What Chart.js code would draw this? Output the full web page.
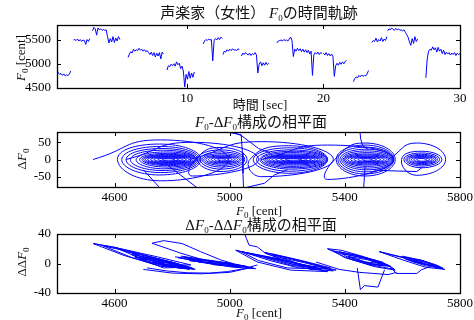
<!DOCTYPE html>
<html>
<head>
<meta charset="utf-8">
<script src="https://cdn.jsdelivr.net/npm/chart.js"></script>
<style>
  body { margin: 0; background: #fff; }
  #wrap { position: relative; width: 474px; height: 320px; overflow: hidden; }
  canvas { position: absolute; left: 0; top: 0; }
  .lbl { position: absolute; white-space: nowrap; transform: translate(-50%, -50%);
         font-family: "Liberation Serif", "Noto Sans CJK JP", serif; color: #111; line-height: 1; }
  .ttl { font-size: 15px; }
  .ax { font-size: 13px; }
  .rot { transform: translate(-50%, -50%) rotate(-90deg); }
  sub { font-size: 9px; vertical-align: -3px; line-height: 0; }
</style>
</head>
<body>
<div id="wrap">
  <canvas id="c1" width="474" height="320"></canvas>
  <canvas id="c2" width="474" height="320"></canvas>
  <canvas id="c3" width="474" height="320"></canvas>
  <div class="lbl ttl" style="left:259px;top:13px">声楽家（女性） <i>F</i><sub>0</sub>の時間軌跡</div>
  <div class="lbl ax" style="left:260px;top:104px">時間 [sec]</div>
  <div class="lbl ax rot" style="left:20px;top:58px"><i>F</i><sub>0</sub> [cent]</div>
  <div class="lbl ttl" style="left:261px;top:122px"><i>F</i><sub>0</sub>-Δ<i>F</i><sub>0</sub>構成の相平面</div>
  <div class="lbl ax" style="left:259px;top:210px"><i>F</i><sub>0</sub> [cent]</div>
  <div class="lbl ax rot" style="left:21px;top:159px">Δ<i>F</i><sub>0</sub></div>
  <div class="lbl ttl" style="left:261px;top:225px">Δ<i>F</i><sub>0</sub>-ΔΔ<i>F</i><sub>0</sub>構成の相平面</div>
  <div class="lbl ax" style="left:259px;top:312px"><i>F</i><sub>0</sub> [cent]</div>
  <div class="lbl ax rot" style="left:21px;top:262px">ΔΔ<i>F</i><sub>0</sub></div>
</div>
<script>
// tick labels
const timeTicks = [10, 20, 30];
const f0Ticks = [4500, 5000, 5500];
const centTicks = [4600, 5000, 5400, 5800];
const d1Ticks = [-50, 0, 50];
const d2Ticks = [-40, -20, 0, 20, 40];

// F0 time track: segments sampled every 0.1 s
const frameStep = 0.1;
const segStart = [0.5, 1.7, 3.1, 5.7, 8.55, 11.2, 12.65, 14.0, 16.6, 20.0, 22.2, 23.55, 24.7, 27.5];
const segF0 = [
  [4870, 4810, 4780, 4800, 4760, 4790, 4750, 4770, 4760, 4780, 4850],
  [5490, 5500, 5480, 5510, 5470, 5500, 5460, 5490, 5480, 5400, 5500, 5460, 5520],
  [5680, 5750, 5720, 5590, 5740, 5700, 5720, 5690, 5710, 5690, 5700, 5560, 5430, 5520, 5450, 5560, 5440, 5530, 5470, 5560, 5500],
  [5130, 5200, 5250, 5220, 5300, 5260, 5290, 5270, 5320, 5280, 5300, 5260, 5290, 5250, 5270, 5230, 5190, 5240, 5170, 5230, 5140, 5220, 5160, 5230, 5100, 5240, 5200],
  [4870, 4960, 4940, 4990, 4960, 5000, 4950, 5040, 4980, 5010, 4900, 4950, 4850, 4520, 4780, 4680, 4840, 4700, 4810, 4720, 4830],
  [5410, 5470, 5500, 5480, 5510, 5490, 5500, 5060, 5480, 5520, 5490, 5540, 5500, 5550, 5520],
  [5190, 5260, 5240, 5290, 5260, 5300, 5270, 5310, 5280, 5290, 5270, 5310, 5290],
  [5160, 5220, 5190, 5230, 5200, 5180, 5220, 5170, 5210, 5190, 5230, 5180, 4810, 4990, 5040, 4960, 5020, 4970, 5030, 4980, 5010],
  [5430, 5470, 5480, 5490, 5470, 5500, 5480, 5490, 5470, 5510, 5550, 5480,
   5150, 5300, 5260, 5320, 5270, 5310, 5250, 5300, 5240, 5290, 5230, 5280, 5200, 5260,
   4760, 5180, 5230, 5200, 5240, 5190, 5230, 5210],
  [5220, 5180, 5230, 5170, 5210, 5160, 5200, 5150, 4740, 4960, 5010, 4970, 5030, 4990, 5040, 5000, 5050, 5070],
  [4630, 4700, 4730, 4710, 4760, 4730, 4770, 4740, 4760, 4750, 4790, 4860],
  [5440, 5480, 5460, 5530, 5450, 5500, 5470, 5540, 5460, 5510, 5480, 5560],
  [5680, 5720, 5700, 5740, 5710, 5690, 5730, 5700, 5720, 5690, 5700, 5680, 5700, 5650, 5600,
   5550, 5450, 5380, 5520, 5420, 5560, 5460, 5510],
  [4710, 5100, 5260, 5300, 5280, 5350, 5290, 5330, 5240, 5340, 5260, 5300, 5210, 5280, 5190, 5240, 5200, 5230, 5180, 5220, 5190, 5230, 5170, 5220, 5190, 5210]
];

// F0 - dF0 phase plane: vibrato spirals (left, top, right, bottom of each turn)
const spiralF0 = [
  [4525,4760,4995,4760, 4610,4755,4900,4755, 4625,4760,4895,4760, 4640,4765,4890,4765, 4655,4770,4885,4770,
   4675,4780,4885,4780, 4687,4785,4883,4785, 4695,4787,4879,4787, 4701,4787,4873,4787, 4707,4787,4867,4787,
   4715,4787,4859,4787, 4725,4787,4849,4787, 4737,4787,4837,4787, 4751,4787,4823,4787, 4765,4787,4809],
  [4640,4870,5100,4870, 4880,4970,5060,4970, 4888,4970,5052,4970, 4897,4972,5047,4972, 4904,4972,5040,4972,
   4910,4972,5034,4972, 4917,4972,5027,4972, 4926,4972,5018,4972, 4936,4972,5008,4972, 4947,4972,4997,4972, 4958,4972,4986],
  [4860,5110,5360,5110, 5070,5205,5340,5205, 5082,5210,5338,5210, 5093,5215,5337,5215, 5105,5220,5335,5220,
   5110,5220,5330,5220, 5118,5222,5326,5222, 5124,5222,5320,5222, 5130,5222,5314,5222, 5137,5222,5307,5222,
   5147,5222,5297,5222, 5160,5222,5284,5222, 5177,5222,5267,5222, 5194,5222,5250],
  [5110,5340,5570,5340, 5365,5470,5575,5470, 5370,5470,5570,5470, 5376,5472,5568,5472, 5383,5475,5567,5475,
   5389,5477,5565,5477, 5394,5478,5562,5478, 5398,5478,5558,5478, 5403,5478,5553,5478, 5410,5478,5546,5478,
   5420,5478,5536,5478, 5432,5478,5524,5478, 5446,5478,5510,5478, 5460,5478,5496],
  [5550,5650,5750,5650, 5597,5667,5737,5667, 5605,5667,5729,5667, 5612,5667,5722,5667, 5617,5667,5717,5667,
   5623,5667,5711,5667, 5631,5667,5703,5667, 5640,5667,5694,5667, 5650,5667,5684]
];
const spiralD1 = [
  [0,57,0,-62, 0,45,0,-45, 0,38,0,-38, 0,32,0,-32, 0,27,0,-27,
   0,22,0,-22, 0,18,0,-18, 0,15,0,-15, 0,13,0,-13, 0,11,0,-11,
   0,9,0,-9, 0,7,0,-7, 0,5,0,-5, 0,4,0,-4, 0,2,0],
  [0,50,0,-48, 0,35,0,-35, 0,28,0,-28, 0,22,0,-22, 0,17,0,-17,
   0,13,0,-13, 0,10,0,-10, 0,8,0,-8, 0,6,0,-6, 0,4,0,-4, 0,2,0],
  [0,52,0,-50, 0,40,0,-40, 0,34,0,-34, 0,28,0,-28, 0,24,0,-24,
   0,20,0,-20, 0,16,0,-16, 0,13,0,-13, 0,11,0,-11, 0,9,0,-9,
   0,7,0,-7, 0,5,0,-5, 0,4,0,-4, 0,2,0],
  [0,42,0,-58, 0,48,0,-48, 0,42,0,-42, 0,36,0,-36, 0,30,0,-30,
   0,25,0,-25, 0,20,0,-20, 0,16,0,-16, 0,13,0,-13, 0,10,0,-10,
   0,8,0,-8, 0,6,0,-6, 0,4,0,-4, 0,2,0],
  [0,48,0,-46, 0,24,0,-24, 0,19,0,-19, 0,15,0,-15, 0,12,0,-12,
   0,9,0,-9, 0,7,0,-7, 0,5,0,-5, 0,3,0]
];
// note jumps in the phase plane
const jumpF0 = [
  [4960, 5040, 5044, 5046, 5048],
  [4990, 5040, 5100, 5140],
  [5452, 5455, 5462, 5480],
  [5470, 5468, 5465],
  [4784, 4888],
  [4700, 4760],
  [4990, 5049, 5121, 5155, 5200],
  [5500, 5560, 5650, 5670]
];
const jumpD1 = [
  [85, 72, 20, -40, -85],
  [85, 70, 32, 20],
  [85, 60, 40, 30],
  [-20, -50, -85],
  [-16, -83],
  [-30, -85],
  [-85, -83, -69, -45, -30],
  [-30, -33, -35, -22]
];

// F0 - ddF0 plane
const accF0 = [
  [4526,4603,4749,4865,4749,4632,4526, 4600,4700,4850,4720,4600, 4640,4760,4860,4760,4660, 4690,4780,4870,4790,4700,
   4720,4800,4860,4790,4740, 4760,4820,4850,4800,4770],
  [4560,4650,4760,4860,4760,4660,4560],
  [4670,4760,4870,4780,4690, 4700,4790,4880,4800,4710, 4660,4740,4850,4770,4670, 4740,4810,4875,4820,4750],
  [4730,4771,4835,4899,4968,5010,4946,4830,4730],
  [4810,4900,5000,5080,5000,4900,4820, 4850,4950,5060,4960,4860, 4880,4980,5050,4970,4890],
  [4830,4920,5010,5090,5010,4920,4840, 4870,4960,5040,4950,4870],
  [4713,4780,4852,4930,4992,5050,5096],
  [4700,4800,4900,5000,5080],
  [5052,5058,5067,5096,5125,5170],
  [5021,5096,5212,5340,5212,5096,5021, 5060,5150,5260,5320,5240,5140,5060, 5100,5200,5300,5220,5120],
  [5120,5200,5300,5370,5290,5190,5120, 5160,5250,5350,5260,5170],
  [5150,5230,5320,5360,5280,5180,5150, 5180,5260,5340,5270,5190, 5040,5120,5230,5300,5200,5100,5040],
  [5300,5380,5450,5550,5580],
  [5340,5387,5468,5550,5573,5491,5410,5340, 5360,5430,5510,5560,5480,5400,5360, 5390,5460,5530,5470,5410, 5420,5480,5540,5490,5440],
  [5380,5450,5530,5575,5500,5420,5380, 5400,5470,5550,5480,5410],
  [5443,5454,5468,5515,5538],
  [5520,5600,5680,5747,5680,5600,5520, 5596,5666,5718,5740,5700,5640,5596, 5610,5670,5720,5680,5630, 5620,5690,5730,5690,5640],
  [5600,5670,5740,5680,5610],
  [5560,5578,5650,5666,5690]
];
const accD2 = [
  [27,21.6,9,-2,-2,11,27, 22,12,-4,2,22, 16,6,-7,-1,14, 10,4,-6,-3,8,
   7,2,-8,-4,5, 4,0,-6,-2,3],
  [24,16,5,-5,-4,8,24],
  [9,4,-7,-4,6, 6,1,-8,-5,3, 12,6,-5,-6,9, 3,-1,-7,-6,1],
  [27.5,31,27,16,5,0,0.5,14,27.5],
  [9,5,0,-6,-3,2,8, 6,2,-4,-1,4, 3,0,-3,-2,2],
  [10,5,0,-7,-5,1,9, 7,2,-5,-2,5],
  [-6,-10,-12.6,-13,-11,-7,-2],
  [-8,-13,-14,-12,-5],
  [40,34,25,22.5,13.5,8],
  [18,11,0,-11,-9,2,18, 14,7,-2,-8,-6,4,14, 10,3,-5,-3,8],
  [15,8,-2,-9,-6,4,15, 12,4,-6,-3,9],
  [12,5,-4,-10,-8,3,12, 8,1,-7,-5,5, 16,10,1,-7,-6,4,16],
  [2,-8,-12,-15,-12],
  [20,18,9,-2,-8,-2,7,20, 17,12,4,-4,-1,8,17, 13,8,0,2,10, 9,5,-3,0,6],
  [16,10,2,-9,-4,6,16, 13,7,-3,0,9],
  [-6,-35.5,-30,-32,-8.5],
  [16,8,0,-8,-5,5,16, 9,4.5,-2,-6,-3,2,9, 8,3,-4,-1,4, 6,1,-5,-2,3],
  [10,4,-7,-3,6],
  [-5,-13.5,-13.5,-8.5,-5]
];

const BLUE = '#0000ff';
const tickFont = { family: 'Liberation Serif', size: 13 };

const boxTicks = {
  id: 'boxTicks',
  afterDraw(chart) {
    const { ctx, chartArea: a, scales } = chart;
    const len = 4;
    ctx.save();
    ctx.strokeStyle = '#000';
    ctx.lineWidth = 1;
    ctx.beginPath();
    scales.x.ticks.forEach(t => {
      const px = Math.round(scales.x.getPixelForValue(t.value)) + 0.5;
      ctx.moveTo(px, a.bottom); ctx.lineTo(px, a.bottom - len);
      ctx.moveTo(px, a.top); ctx.lineTo(px, a.top + len);
    });
    scales.y.ticks.forEach(t => {
      const py = Math.round(scales.y.getPixelForValue(t.value)) + 0.5;
      ctx.moveTo(a.left, py); ctx.lineTo(a.left + len, py);
      ctx.moveTo(a.right, py); ctx.lineTo(a.right - len, py);
    });
    ctx.stroke();
    ctx.lineWidth = 1.3;
    ctx.strokeRect(Math.round(a.left) + 0.5, Math.round(a.top) + 0.5,
                   Math.round(a.right - a.left), Math.round(a.bottom - a.top));
    ctx.restore();
  }
};

function pairs(xs, ys) {
  return xs.map((x, i) => ({ x: x, y: ys[i] }));
}

function axes(xr, xt, yr, yt) {
  return {
    x: {
      type: 'linear', min: xr[0], max: xr[1],
      afterBuildTicks: s => { s.ticks = xt.map(v => ({ value: v })); },
      afterFit: s => { s.height = 20; s.paddingLeft = 0; s.paddingRight = 0; },
      grid: { display: false, drawTicks: false },
      border: { display: false },
      ticks: { font: tickFont, color: '#000', padding: 3, maxRotation: 0, callback: v => String(v) }
    },
    y: {
      type: 'linear', min: yr[0], max: yr[1],
      afterBuildTicks: s => { s.ticks = yt.map(v => ({ value: v })); },
      afterFit: s => { s.width = 57; s.paddingTop = 0; s.paddingBottom = 0; },
      grid: { display: false, drawTicks: false },
      border: { display: false },
      ticks: { font: tickFont, color: '#000', padding: 6, callback: v => String(v) }
    }
  };
}

function makeChart(id, datasets, pad, scales) {
  return new Chart(document.getElementById(id), {
    type: 'scatter',
    data: { datasets: datasets },
    options: {
      responsive: false,
      animation: false,
      devicePixelRatio: 1,
      layout: { padding: pad },
      plugins: { legend: { display: false }, tooltip: { enabled: false } },
      elements: { point: { radius: 0 } },
      scales: scales
    },
    plugins: [boxTicks]
  });
}

// chart 1: time track
const trackPts = [];
segStart.forEach((t0, k) => {
  segF0[k].forEach((v, i) => trackPts.push({ x: t0 + i * frameStep, y: v }));
  trackPts.push({ x: t0 + segF0[k].length * frameStep, y: null });
});
makeChart('c1', [{
  data: trackPts, showLine: true, borderColor: BLUE, borderWidth: 1, spanGaps: false
}], { top: 25, left: 0, right: 14, bottom: 212 },
  axes([0.5, 30], timeTicks, [4500, 5800], f0Ticks));

// chart 2: F0 - dF0
const ds2 = [];
spiralF0.forEach((xs, k) => ds2.push({
  data: pairs(xs, spiralD1[k]), showLine: true, borderColor: BLUE, borderWidth: 1, tension: 0.55
}));
jumpF0.forEach((xs, k) => ds2.push({
  data: pairs(xs, jumpD1[k]), showLine: true, borderColor: BLUE, borderWidth: 1, tension: 0
}));
makeChart('c2', ds2, { top: 132, left: 0, right: 14, bottom: 113 },
  axes([4400, 5800], centTicks, [-80, 80], d1Ticks));

// chart 3: F0 - ddF0
const ds3 = accF0.map((xs, k) => ({
  data: pairs(xs, accD2[k]), showLine: true, borderColor: BLUE, borderWidth: 1, tension: 0
}));
makeChart('c3', ds3, { top: 234, left: 0, right: 14, bottom: 7 },
  axes([4400, 5800], centTicks, [-40, 40], d2Ticks));
</script>
</body>
</html>
